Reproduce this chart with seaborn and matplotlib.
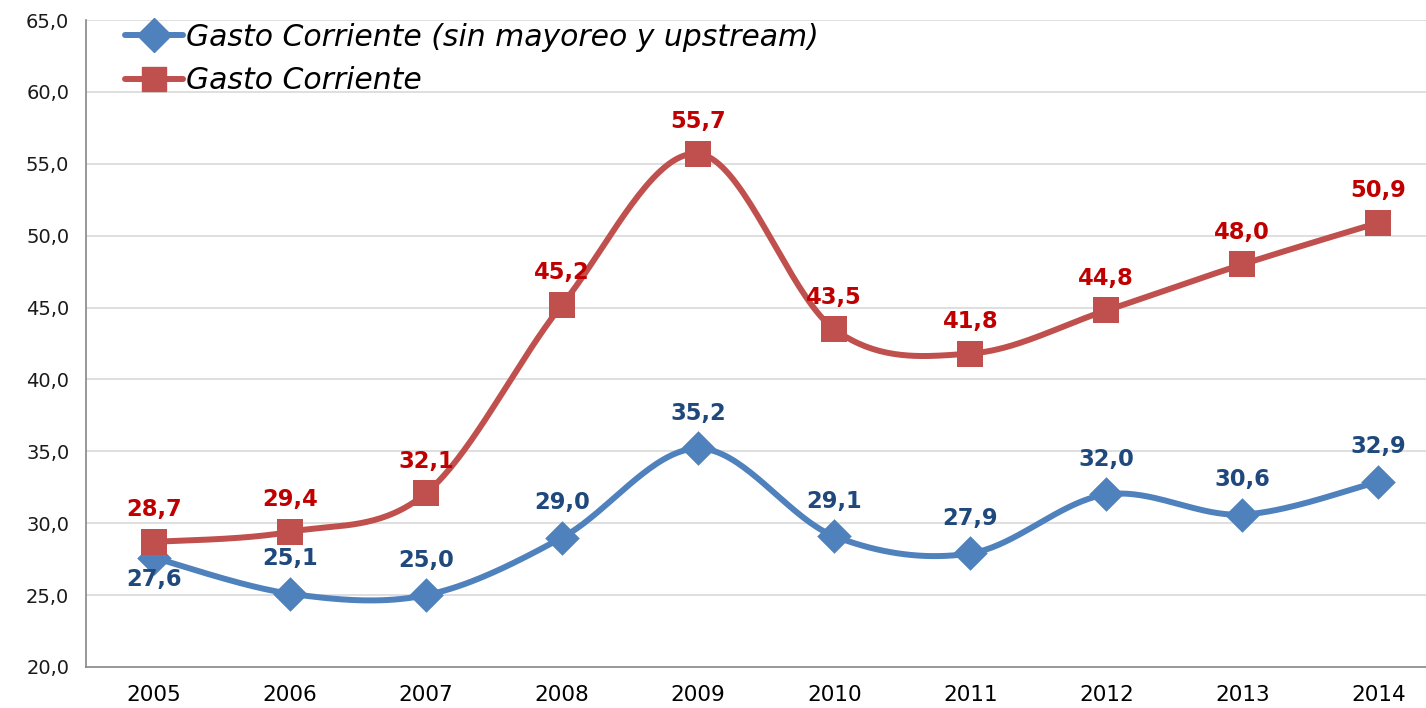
import numpy as np
import pandas as pd
import matplotlib
matplotlib.use("Agg")
import matplotlib.pyplot as plt
from matplotlib.lines import Line2D
import seaborn as sns

years = ["2005", "2006", "2007", "2008", "2009", "2010", "2011", "2012", "2013", "2014"]
gasto_sin = [27.6, 25.1, 25.0, 29.0, 35.2, 29.1, 27.9, 32.0, 30.6, 32.9]
gasto_corr = [28.7, 29.4, 32.1, 45.2, 55.7, 43.5, 41.8, 44.8, 48.0, 50.9]
name_sin = "Gasto Corriente (sin mayoreo y upstream)"
name_corr = "Gasto Corriente"
y_ticks = [20, 25, 30, 35, 40, 45, 50, 55, 60, 65]

BLUE = "#4F81BD"
RED = "#C0504D"
BLUE_TXT = "#1F497D"
RED_TXT = "#C00000"

sns.set_style("white")
plt.rcParams['font.family'] = ['DejaVu Sans']


def smooth_curve(xs, ys, n=40):
    # bezier segments like excel "smoothed line"
    pts = np.column_stack([xs, ys]).astype(float)
    out = []
    for i in range(len(pts) - 1):
        p0 = pts[i - 1] if i > 0 else pts[i]
        p1 = pts[i]
        p2 = pts[i + 1]
        p3 = pts[i + 2] if i + 2 < len(pts) else pts[i + 1]
        c1 = p1 + (p2 - p0) / 6.0
        c2 = p2 - (p3 - p1) / 6.0
        t = np.linspace(0, 1, n)[:, None]
        seg = ((1 - t) ** 3) * p1 + 3 * ((1 - t) ** 2) * t * c1 + 3 * (1 - t) * t ** 2 * c2 + t ** 3 * p2
        out.append(seg if i == 0 else seg[1:])
    out = np.vstack(out)
    return out[:, 0], out[:, 1]


df = pd.DataFrame({"year": years, "x": np.arange(len(years)),
                   name_sin: gasto_sin, name_corr: gasto_corr})

fig = plt.figure(figsize=(14.26, 7.08), dpi=100)
ax = fig.add_axes([86 / 1426, 41 / 708, 1340 / 1426, 647 / 708])

# horizontal grid
for v in y_ticks[1:]:
    ax.axhline(v, color="#D9D9D9", lw=1.2, zorder=0)

sx, sy = smooth_curve(df["x"], df[name_sin])
ax.plot(sx, sy, color=BLUE, lw=4.3, solid_capstyle="round", zorder=2)
sns.scatterplot(data=df, x="x", y=name_sin, marker="D", s=310, color=BLUE,
                edgecolor=BLUE, linewidth=0, ax=ax, zorder=3, legend=False)

rx, ry = smooth_curve(df["x"], df[name_corr])
ax.plot(rx, ry, color=RED, lw=4.3, solid_capstyle="round", zorder=4)
sns.scatterplot(data=df, x="x", y=name_corr, marker="s", s=350, color=RED,
                edgecolor=RED, linewidth=0, ax=ax, zorder=5, legend=False)

for i, v in enumerate(gasto_corr):
    ax.annotate(f"{v:.1f}".replace(".", ","), (i, v), xytext=(0, 23),
                textcoords="offset points", ha="center", va="center",
                color=RED_TXT, fontsize=16.3, fontweight="bold", zorder=6)
for i, v in enumerate(gasto_sin):
    dy = -16 if i == 0 else 25
    ax.annotate(f"{v:.1f}".replace(".", ","), (i, v), xytext=(0, dy),
                textcoords="offset points", ha="center", va="center",
                color=BLUE_TXT, fontsize=16.3, fontweight="bold", zorder=6)

ax.set_yticks(y_ticks)
ax.set_yticklabels([f"{v:.1f}".replace(".", ",") for v in y_ticks], fontsize=14, color="#1a1a1a")
ax.set_xticks(df["x"])
ax.set_xticklabels(years, fontsize=15.5, color="#000000")
ax.set_xticks(np.arange(-0.5, 10, 1), minor=True)
ax.set_xlim(-0.5, 9.35)
ax.set_ylim(20, 65)
ax.tick_params(axis="x", which="major", length=0, pad=13)
ax.tick_params(axis="x", which="minor", length=7, color="#868686", width=1.2)
ax.tick_params(axis="y", length=6, color="#868686", width=1.2, pad=6)
ax.set_xlabel("")
ax.set_ylabel("")
for s in ["top", "right"]:
    ax.spines[s].set_visible(False)
for s in ["left", "bottom"]:
    ax.spines[s].set_color("#868686")
    ax.spines[s].set_linewidth(1.2)

handles = [Line2D([], [], color=BLUE, lw=4.3, marker="D", markersize=17),
           Line2D([], [], color=RED, lw=4.3, marker="s", markersize=17)]
leg = ax.legend(handles, [name_sin, name_corr], loc="upper left",
                bbox_to_anchor=(0.009, 1.037), frameon=False, handlelength=1.95,
                handletextpad=0.1, labelspacing=0.48, labelcolor="#000000",
                prop={"family": "DejaVu Sans", "style": "italic", "size": 21.5})

fig.savefig("out.png", dpi=100)
